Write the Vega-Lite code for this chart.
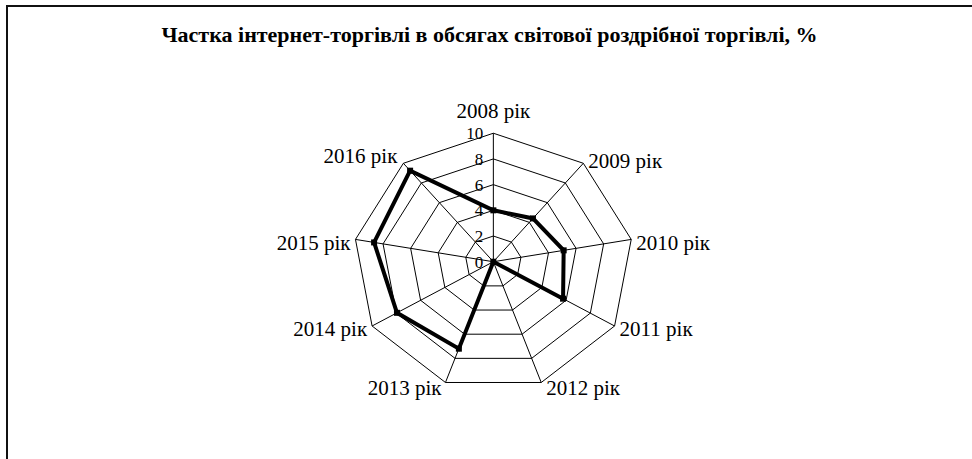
{
  "$schema": "https://vega.github.io/schema/vega-lite/v6.json",
  "width": 965,
  "height": 453,
  "padding": {"left": 7, "top": 6, "right": 0, "bottom": 0},
  "autosize": {"type": "none"},
  "background": "white",
  "config": {
    "view": {"stroke": "#111111", "strokeWidth": 2, "strokeDash": [965, 1418, 460]},
    "font": "Liberation Serif"
  },
  "title": {
    "text": "Частка інтернет-торгівлі в обсягах світової роздрібної торгівлі, %",
    "font": "Liberation Serif",
    "fontSize": 22,
    "fontWeight": "bold",
    "color": "#000000",
    "anchor": "middle",
    "frame": "group",
    "baseline": "alphabetic",
    "offset": -36,
    "dy": 22
  },
  "datasets": {
    "series": [
      {"year": "2008 рік", "idx": 0, "value": 4.0},
      {"year": "2009 рік", "idx": 1, "value": 4.4},
      {"year": "2010 рік", "idx": 2, "value": 5.1},
      {"year": "2011 рік", "idx": 3, "value": 5.75},
      {"year": "2012 рік", "idx": 4, "value": 0},
      {"year": "2013 рік", "idx": 5, "value": 7.2},
      {"year": "2014 рік", "idx": 6, "value": 7.95},
      {"year": "2015 рік", "idx": 7, "value": 8.65},
      {"year": "2016 рік", "idx": 8, "value": 9.25}
    ],
    "rings": [
      {"level": 2, "idx": 0}, {"level": 2, "idx": 1}, {"level": 2, "idx": 2}, {"level": 2, "idx": 3}, {"level": 2, "idx": 4}, {"level": 2, "idx": 5}, {"level": 2, "idx": 6}, {"level": 2, "idx": 7}, {"level": 2, "idx": 8},
      {"level": 4, "idx": 0}, {"level": 4, "idx": 1}, {"level": 4, "idx": 2}, {"level": 4, "idx": 3}, {"level": 4, "idx": 4}, {"level": 4, "idx": 5}, {"level": 4, "idx": 6}, {"level": 4, "idx": 7}, {"level": 4, "idx": 8},
      {"level": 6, "idx": 0}, {"level": 6, "idx": 1}, {"level": 6, "idx": 2}, {"level": 6, "idx": 3}, {"level": 6, "idx": 4}, {"level": 6, "idx": 5}, {"level": 6, "idx": 6}, {"level": 6, "idx": 7}, {"level": 6, "idx": 8},
      {"level": 8, "idx": 0}, {"level": 8, "idx": 1}, {"level": 8, "idx": 2}, {"level": 8, "idx": 3}, {"level": 8, "idx": 4}, {"level": 8, "idx": 5}, {"level": 8, "idx": 6}, {"level": 8, "idx": 7}, {"level": 8, "idx": 8},
      {"level": 10, "idx": 0}, {"level": 10, "idx": 1}, {"level": 10, "idx": 2}, {"level": 10, "idx": 3}, {"level": 10, "idx": 4}, {"level": 10, "idx": 5}, {"level": 10, "idx": 6}, {"level": 10, "idx": 7}, {"level": 10, "idx": 8}
    ],
    "ticks": [{"t": 0}, {"t": 2}, {"t": 4}, {"t": 6}, {"t": 8}, {"t": 10}]
  },
  "layer": [
    {
      "data": {"name": "rings"},
      "transform": [
        {"calculate": "datum.level * sin(datum.idx * 2 * PI / 9)", "as": "px"},
        {"calculate": "datum.level * cos(datum.idx * 2 * PI / 9)", "as": "py"}
      ],
      "mark": {"type": "line", "interpolate": "linear-closed", "color": "#000000", "strokeWidth": 1},
      "encoding": {
        "x": {"field": "px", "type": "quantitative", "scale": {"domain": [-34.74, 34.19], "nice": false, "zero": false}, "axis": null},
        "y": {"field": "py", "type": "quantitative", "scale": {"domain": [-15.35, 19.9], "nice": false, "zero": false}, "axis": null},
        "detail": {"field": "level", "type": "nominal"},
        "order": {"field": "idx", "type": "quantitative"}
      }
    },
    {
      "data": {"name": "series"},
      "transform": [
        {"calculate": "10 * sin(datum.idx * 2 * PI / 9)", "as": "sx"},
        {"calculate": "10 * cos(datum.idx * 2 * PI / 9)", "as": "sy"}
      ],
      "mark": {"type": "rule", "color": "#000000", "strokeWidth": 1},
      "encoding": {
        "x": {"field": "sx", "type": "quantitative"},
        "y": {"field": "sy", "type": "quantitative"},
        "x2": {"datum": 0},
        "y2": {"datum": 0}
      }
    },
    {
      "data": {"name": "ticks"},
      "mark": {"type": "text", "align": "right", "baseline": "alphabetic", "dx": -10, "dy": 6, "fontSize": 17, "font": "Liberation Serif", "color": "#000000"},
      "encoding": {
        "x": {"datum": 0, "type": "quantitative"},
        "y": {"field": "t", "type": "quantitative"},
        "text": {"field": "t", "type": "quantitative"}
      }
    },
    {
      "data": {"name": "series"},
      "transform": [
        {"calculate": "datum.value * sin(datum.idx * 2 * PI / 9)", "as": "px"},
        {"calculate": "datum.value * cos(datum.idx * 2 * PI / 9)", "as": "py"}
      ],
      "mark": {"type": "line", "interpolate": "linear-closed", "color": "#000000", "strokeWidth": 4, "strokeJoin": "miter"},
      "encoding": {
        "x": {"field": "px", "type": "quantitative"},
        "y": {"field": "py", "type": "quantitative"},
        "order": {"field": "idx", "type": "quantitative"}
      }
    },
    {
      "data": {"name": "series"},
      "transform": [
        {"calculate": "datum.value * sin(datum.idx * 2 * PI / 9)", "as": "px"},
        {"calculate": "datum.value * cos(datum.idx * 2 * PI / 9)", "as": "py"}
      ],
      "mark": {"type": "point", "shape": "square", "filled": true, "color": "#000000", "size": 36, "opacity": 1},
      "encoding": {
        "x": {"field": "px", "type": "quantitative"},
        "y": {"field": "py", "type": "quantitative"}
      }
    },
    {
      "data": {"name": "series"},
      "transform": [
        {"calculate": "10 * sin(datum.idx * 2 * PI / 9)", "as": "sx"},
        {"calculate": "10 * cos(datum.idx * 2 * PI / 9)", "as": "sy"}
      ],
      "layer": [
        {
          "transform": [{"filter": "datum.idx == 0"}],
          "mark": {"type": "text", "align": "center", "baseline": "alphabetic", "dy": -15, "fontSize": 21, "color": "#000000"}
        },
        {
          "transform": [{"filter": "datum.idx == 1"}],
          "mark": {"type": "text", "align": "left", "baseline": "alphabetic", "dx": 5, "dy": 5, "fontSize": 21, "color": "#000000"}
        },
        {
          "transform": [{"filter": "datum.idx == 2 || datum.idx == 3"}],
          "mark": {"type": "text", "align": "left", "baseline": "alphabetic", "dx": 5, "dy": 10.5, "fontSize": 21, "color": "#000000"}
        },
        {
          "transform": [{"filter": "datum.idx == 4"}],
          "mark": {"type": "text", "align": "left", "baseline": "alphabetic", "dx": 5, "dy": 12.5, "fontSize": 21, "color": "#000000"}
        },
        {
          "transform": [{"filter": "datum.idx == 5"}],
          "mark": {"type": "text", "align": "right", "baseline": "alphabetic", "dx": -4, "dy": 12.5, "fontSize": 21, "color": "#000000"}
        },
        {
          "transform": [{"filter": "datum.idx == 6 || datum.idx == 7"}],
          "mark": {"type": "text", "align": "right", "baseline": "alphabetic", "dx": -5, "dy": 10.5, "fontSize": 21, "color": "#000000"}
        },
        {
          "transform": [{"filter": "datum.idx == 8"}],
          "mark": {"type": "text", "align": "right", "baseline": "alphabetic", "dx": -6, "dy": 0, "fontSize": 21, "color": "#000000"}
        }
      ],
      "encoding": {
        "x": {"field": "sx", "type": "quantitative"},
        "y": {"field": "sy", "type": "quantitative"},
        "text": {"field": "year", "type": "nominal"}
      }
    }
  ]
}
